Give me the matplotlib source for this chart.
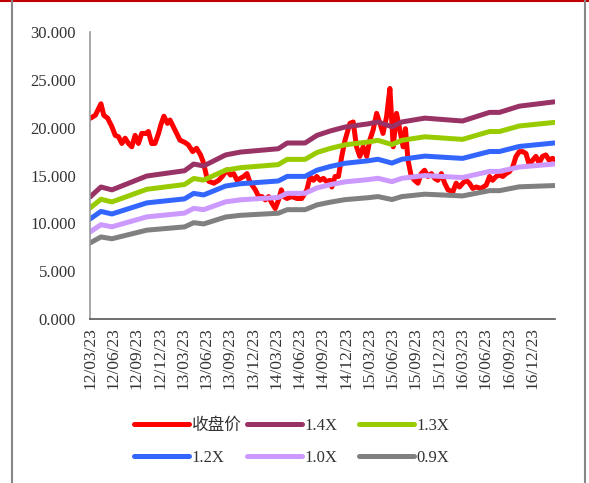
import pandas as pd
import matplotlib
matplotlib.use("Agg")
import matplotlib.pyplot as plt
import matplotlib.dates as mdates
from matplotlib.lines import Line2D

plt.rcParams['font.family'] = ['Liberation Serif', 'Noto Sans CJK SC']

# 收盘价
close_dates = [
    "2012-03-24", "2012-04-13", "2012-05-05", "2012-05-16", "2012-05-31", "2012-06-17",
    "2012-06-30", "2012-07-13", "2012-07-26", "2012-08-08", "2012-08-21", "2012-09-03",
    "2012-09-16", "2012-09-29", "2012-10-12", "2012-10-29", "2012-11-07", "2012-11-20",
    "2012-12-03", "2012-12-17", "2012-12-26", "2013-01-07", "2013-01-21", "2013-01-31",
    "2013-02-13", "2013-02-26", "2013-03-11", "2013-03-31", "2013-04-13", "2013-04-30",
    "2013-05-15", "2013-05-31", "2013-06-10", "2013-06-23", "2013-07-02", "2013-07-22",
    "2013-08-10", "2013-08-24", "2013-09-12", "2013-09-25", "2013-10-08", "2013-10-21",
    "2013-11-03", "2013-11-16", "2013-11-29", "2013-12-08", "2013-12-19", "2014-01-01",
    "2014-01-14", "2014-01-27", "2014-02-09", "2014-02-22", "2014-03-07", "2014-03-20",
    "2014-04-02", "2014-04-13", "2014-04-22", "2014-05-05", "2014-05-24", "2014-06-13",
    "2014-07-02", "2014-07-22", "2014-08-04", "2014-08-17", "2014-08-30", "2014-09-12",
    "2014-09-25", "2014-10-08", "2014-10-21", "2014-10-28", "2014-11-10", "2014-11-23",
    "2014-12-06", "2014-12-19", "2015-01-07", "2015-01-20", "2015-02-02", "2015-02-15",
    "2015-02-28", "2015-03-14", "2015-03-26", "2015-04-08", "2015-04-22", "2015-05-05",
    "2015-05-17", "2015-05-31", "2015-06-13", "2015-06-26", "2015-07-09", "2015-07-22",
    "2015-08-04", "2015-08-13", "2015-08-23", "2015-09-05", "2015-09-18", "2015-10-01",
    "2015-10-14", "2015-10-27", "2015-11-09", "2015-11-23", "2015-12-06", "2015-12-18",
    "2016-01-01", "2016-01-14", "2016-01-27", "2016-02-15", "2016-02-28", "2016-03-12",
    "2016-03-25", "2016-04-07", "2016-04-20", "2016-05-03", "2016-05-17", "2016-06-05",
    "2016-06-25", "2016-07-08", "2016-07-20", "2016-08-03", "2016-08-16", "2016-08-29",
    "2016-09-11", "2016-09-24", "2016-10-07", "2016-10-20", "2016-11-02", "2016-11-15",
    "2016-11-28", "2016-12-11", "2016-12-24", "2017-01-06", "2017-01-19", "2017-02-01",
    "2017-02-14", "2017-02-27", "2017-03-12", "2017-03-22",
]
close_price = [
    20.98, 21.3, 22.5, 21.3, 21.0, 20.1,
    19.2, 19.05, 18.35, 18.9, 18.35, 18.0,
    19.2, 18.35, 19.4, 19.4, 19.6, 18.35,
    18.35, 19.4, 20.3, 21.2, 20.45, 20.8,
    20.1, 19.4, 18.7, 18.45, 18.2, 17.5,
    17.85, 17.15, 16.45, 15.0, 14.4, 14.2,
    14.5, 14.9, 15.6, 15.05, 15.2, 14.5,
    14.7, 14.9, 15.2, 14.5, 14.0, 13.5,
    12.8, 12.8, 12.45, 12.8, 12.1, 11.55,
    12.45, 13.5, 12.8, 12.6, 12.8, 12.6,
    12.6, 13.5, 14.9, 14.5, 14.9, 14.5,
    14.7, 14.35, 14.5, 13.8, 14.9, 14.9,
    17.0, 18.7, 20.45, 20.6, 18.0, 17.0,
    18.0, 17.0, 18.7, 19.75, 21.5, 20.45,
    19.4, 21.15, 24.1, 18.0, 21.5, 19.75,
    18.0, 19.9, 16.6, 14.9, 14.5, 14.2,
    15.2, 15.55, 14.9, 15.2, 14.7, 14.5,
    15.2, 14.2, 13.5, 13.3, 14.2, 13.8,
    14.2, 14.5, 14.2, 13.65, 13.8, 13.65,
    14.0, 14.9, 14.5, 14.9, 15.05, 14.9,
    15.2, 15.4, 15.9, 17.0, 17.5, 17.5,
    17.3, 16.1, 16.6, 17.0, 16.3, 17.0,
    17.15, 16.6, 16.8, 16.6,
]

# valuation bands, break points
band_dates = [
    "2012-03-23", "2012-05-05", "2012-06-17", "2012-11-01", "2013-03-29", "2013-05-04",
    "2013-06-12", "2013-09-06", "2013-11-03", "2014-04-01", "2014-05-06", "2014-07-15",
    "2014-08-31", "2014-10-21", "2014-12-19", "2015-03-19", "2015-04-27", "2015-06-21",
    "2015-07-30", "2015-10-28", "2016-02-02", "2016-03-24", "2016-07-08", "2016-08-16",
    "2016-11-02", "2017-03-19",
]
band_14x = [12.75, 13.8, 13.5, 14.95, 15.5, 16.2, 16.0, 17.15, 17.45, 17.8, 18.4, 18.4, 19.2,
            19.65, 20.07, 20.4, 20.6, 20.1, 20.6, 21.0, 20.8, 20.7, 21.6, 21.6, 22.25, 22.7]
band_13x = [11.6, 12.52, 12.24, 13.56, 14.06, 14.69, 14.52, 15.56, 15.82, 16.14, 16.69, 16.69, 17.41,
            17.83, 18.21, 18.5, 18.68, 18.24, 18.68, 19.05, 18.87, 18.78, 19.6, 19.6, 20.18, 20.55]
band_12x = [10.45, 11.25, 10.98, 12.14, 12.56, 13.13, 12.97, 13.9, 14.14, 14.43, 14.91, 14.91, 15.56,
            15.94, 16.28, 16.54, 16.7, 16.3, 16.7, 17.03, 16.87, 16.79, 17.51, 17.51, 18.04, 18.4]
band_10x = [9.1, 9.86, 9.64, 10.68, 11.07, 11.57, 11.43, 12.25, 12.46, 12.71, 13.14, 13.14, 13.71,
            14.04, 14.34, 14.57, 14.71, 14.36, 14.71, 15.0, 14.86, 14.79, 15.43, 15.43, 15.89, 16.2]
band_09x = [7.95, 8.58, 8.39, 9.29, 9.63, 10.07, 9.94, 10.66, 10.84, 11.06, 11.43, 11.43, 11.93,
            12.21, 12.48, 12.68, 12.8, 12.49, 12.8, 13.05, 12.93, 12.87, 13.42, 13.42, 13.82, 13.95]

# quarterly axis labels, 23rd of Mar/Jun/Sep/Dec
tick_dates = pd.date_range("2012-03-01", periods=20, freq="3MS") + pd.Timedelta(days=22)

close_idx = pd.to_datetime(close_dates)
band_idx = pd.to_datetime(band_dates)

fig = plt.figure(figsize=(5.89, 4.83), dpi=100)
ax = fig.add_axes([0.1528, 0.3395, 0.7895, 0.5942])

lw = 3.6
h_close, = ax.plot(close_idx, close_price, color='#FF0000', lw=lw, solid_joinstyle='round',
                   solid_capstyle='round', label='收盘价')
series = [
    (band_14x, '#993366', '1.4X'),
    (band_13x, '#99CC00', '1.3X'),
    (band_12x, '#3366FF', '1.2X'),
    (band_10x, '#CC99FF', '1.0X'),
    (band_09x, '#808080', '0.9X'),
]
handles = {'收盘价': h_close}
for vals, col, lab in series:
    h, = ax.plot(band_idx, vals, color=col, lw=lw, solid_joinstyle='round',
                 solid_capstyle='round', label=lab)
    handles[lab] = h

ax.set_ylim(0, 30)
ax.set_yticks([0, 5, 10, 15, 20, 25, 30])
ax.yaxis.set_major_formatter(plt.FuncFormatter(lambda v, p: f'{v:.3f}'))
ax.set_xlim(pd.Timestamp("2012-03-23"), pd.Timestamp("2017-03-22"))
ax.set_xticks(tick_dates)
ax.xaxis.set_major_formatter(mdates.DateFormatter('%y/%m/%d'))
ax.tick_params(axis='y', length=0, pad=10, labelsize=12, labelcolor='#333333')
ax.tick_params(axis='x', length=0, pad=6, labelsize=12.5, labelrotation=90, labelcolor='#333333')
for lbl in ax.get_xticklabels():
    lbl.set_verticalalignment('top')

for s in ['top', 'right']:
    ax.spines[s].set_visible(False)
ax.spines['left'].set_color('#999999')
ax.spines['left'].set_linewidth(1.2)
ax.spines['bottom'].set_color('#555555')
ax.spines['bottom'].set_linewidth(1.2)

# legend: three fixed columns like the original
columns = [['收盘价', '1.2X'], ['1.4X', '1.0X'], ['1.3X', '0.9X']]
col_x = [134, 247, 359]
for labs, x0 in zip(columns, col_x):
    leg = fig.legend([handles[k] for k in labs], labs, loc='center left', ncol=1,
                     bbox_to_anchor=(x0 / 589, 1 - 442 / 483), frameon=False, fontsize=12,
                     handlelength=3.3, handletextpad=0.15, labelspacing=0.95,
                     borderpad=0, borderaxespad=0, labelcolor='#333333')

# chart frame
fig.add_artist(Line2D([0, 1], [0.997, 0.997], color='#C00000', lw=1.5, transform=fig.transFigure))
fig.add_artist(Line2D([12 / 589, 12 / 589], [0, 0.997], color='#888888', lw=1.5, transform=fig.transFigure))
fig.add_artist(Line2D([585 / 589, 585 / 589], [0, 0.997], color='#888888', lw=1.5, transform=fig.transFigure))

fig.savefig('out.png', dpi=100)
